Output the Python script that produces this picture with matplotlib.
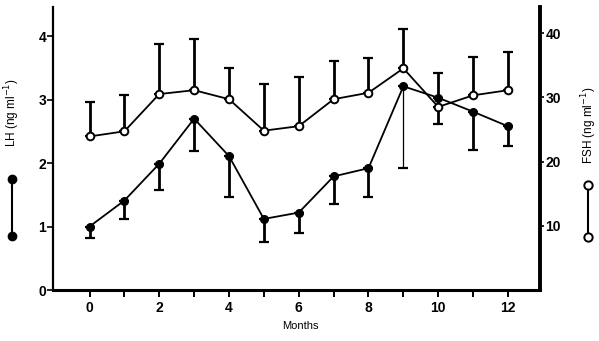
import matplotlib
matplotlib.use("Agg")
import matplotlib.pyplot as plt
import numpy as np

# Monthly hormone concentrations
months = [0, 1, 2, 3, 4, 5, 6, 7, 8, 9, 10, 11, 12]
lh_mean = [1.00, 1.41, 1.99, 2.70, 2.11, 1.12, 1.22, 1.79, 1.92, 3.21, 3.03, 2.81, 2.58]
lh_lower = [0.82, 1.12, 1.57, 2.19, 1.46, 0.75, 0.90, 1.35, 1.46, 1.92, 2.61, 2.20, 2.27]
fsh_mean = [23.9, 24.7, 30.5, 31.1, 29.7, 24.8, 25.5, 29.7, 30.7, 34.5, 28.5, 30.3, 31.1]
fsh_upper = [29.2, 30.3, 38.3, 39.0, 34.6, 32.0, 33.2, 35.6, 36.1, 40.6, 33.8, 36.3, 37.0]

lh_ticks = [0, 1, 2, 3, 4]
fsh_ticks = [10, 20, 30, 40]
x_ticks = [0, 2, 4, 6, 8, 10, 12]

plt.rcParams["font.family"] = ["Liberation Sans", "DejaVu Sans"]

W, H = 599, 341
fig = plt.figure(figsize=(W / 100, H / 100), dpi=100)
x0, x1, y0, y1 = 53, 540, 290, 7
ax = fig.add_axes([x0 / W, 1 - y0 / H, (x1 - x0) / W, (y0 - y1) / H])
ax2 = ax.twinx()

m = np.array(months)
lh = np.array(lh_mean)
fsh = np.array(fsh_mean)

# LH: filled circles, error bars downward (the wide month-9 bar is drawn thin)
lh_err = np.vstack([lh - np.array(lh_lower), np.zeros_like(lh)])
widths = np.where(m == 9, 0.9, 2.0)
for i in range(len(m)):
    ax.errorbar(m[i:i + 1], lh[i:i + 1], yerr=lh_err[:, i:i + 1], fmt="none",
                ecolor="black", elinewidth=widths[i], capsize=3.5,
                capthick=1.6, zorder=2)
ax.plot(m, lh, color="black", lw=1.3, marker="o", ms=5.5, mfc="black",
        mec="black", zorder=3)

# FSH: open circles, error bars upward
fsh_err = np.vstack([np.zeros_like(fsh), np.array(fsh_upper) - fsh])
ax2.errorbar(m, fsh, yerr=fsh_err, fmt="none", ecolor="black", elinewidth=2.0,
             capsize=3.5, capthick=1.6, zorder=2)
ax2.plot(m, fsh, color="black", lw=1.3, marker="o", ms=5.5, mfc="white",
         mec="black", mew=1.4, zorder=3)

ax.set_xlim(-1.047, 12.918)
ax.set_ylim(0, 4.46)
ax2.set_ylim(0, 44.05)

for a in (ax, ax2):
    a.spines["top"].set_visible(False)
ax.spines["right"].set_visible(False)
ax2.spines["left"].set_visible(False)
ax2.spines["bottom"].set_visible(False)
ax.spines["left"].set_linewidth(1.6)
ax.spines["bottom"].set_linewidth(2.2)
ax2.spines["right"].set_linewidth(2.8)

ax.set_xticks(months)
ax.set_xticklabels([str(v) if v in x_ticks else "" for v in months])
ax.tick_params(axis="x", direction="out", length=5, width=1.4, pad=3,
               labelsize=10)
ax.set_yticks(lh_ticks)
ax.tick_params(axis="y", direction="out", length=4, width=1.2, pad=1,
               labelsize=10)
ax2.set_yticks(fsh_ticks)
ax2.tick_params(axis="y", direction="out", length=3, width=1.2, pad=1,
                labelsize=10)
for lbl in ax.get_xticklabels() + ax.get_yticklabels() + ax2.get_yticklabels():
    lbl.set_fontweight("bold")

fig.text(300 / W, 1 - 326 / H, "Months", ha="center", va="center", fontsize=8)

# Axis titles with their series symbols
fig.text(12 / W, 1 - 113 / H, "LH (ng ml$^{-1}$)", rotation=90,
         ha="center", va="center", fontsize=8.5)
fig.text(589 / W, 1 - 125 / H, "FSH (ng ml$^{-1}$)", rotation=90,
         ha="center", va="center", fontsize=8.5)
fig.add_artist(plt.Line2D([12 / W, 12 / W], [1 - 179 / H, 1 - 236 / H],
                          color="black", lw=1.5, marker="o", ms=6,
                          mfc="black", transform=fig.transFigure))
fig.add_artist(plt.Line2D([588 / W, 588 / W], [1 - 185 / H, 1 - 237 / H],
                          color="black", lw=1.5, marker="o", ms=6,
                          mfc="white", mew=1.4, transform=fig.transFigure))

fig.savefig("out.png", dpi=100)
